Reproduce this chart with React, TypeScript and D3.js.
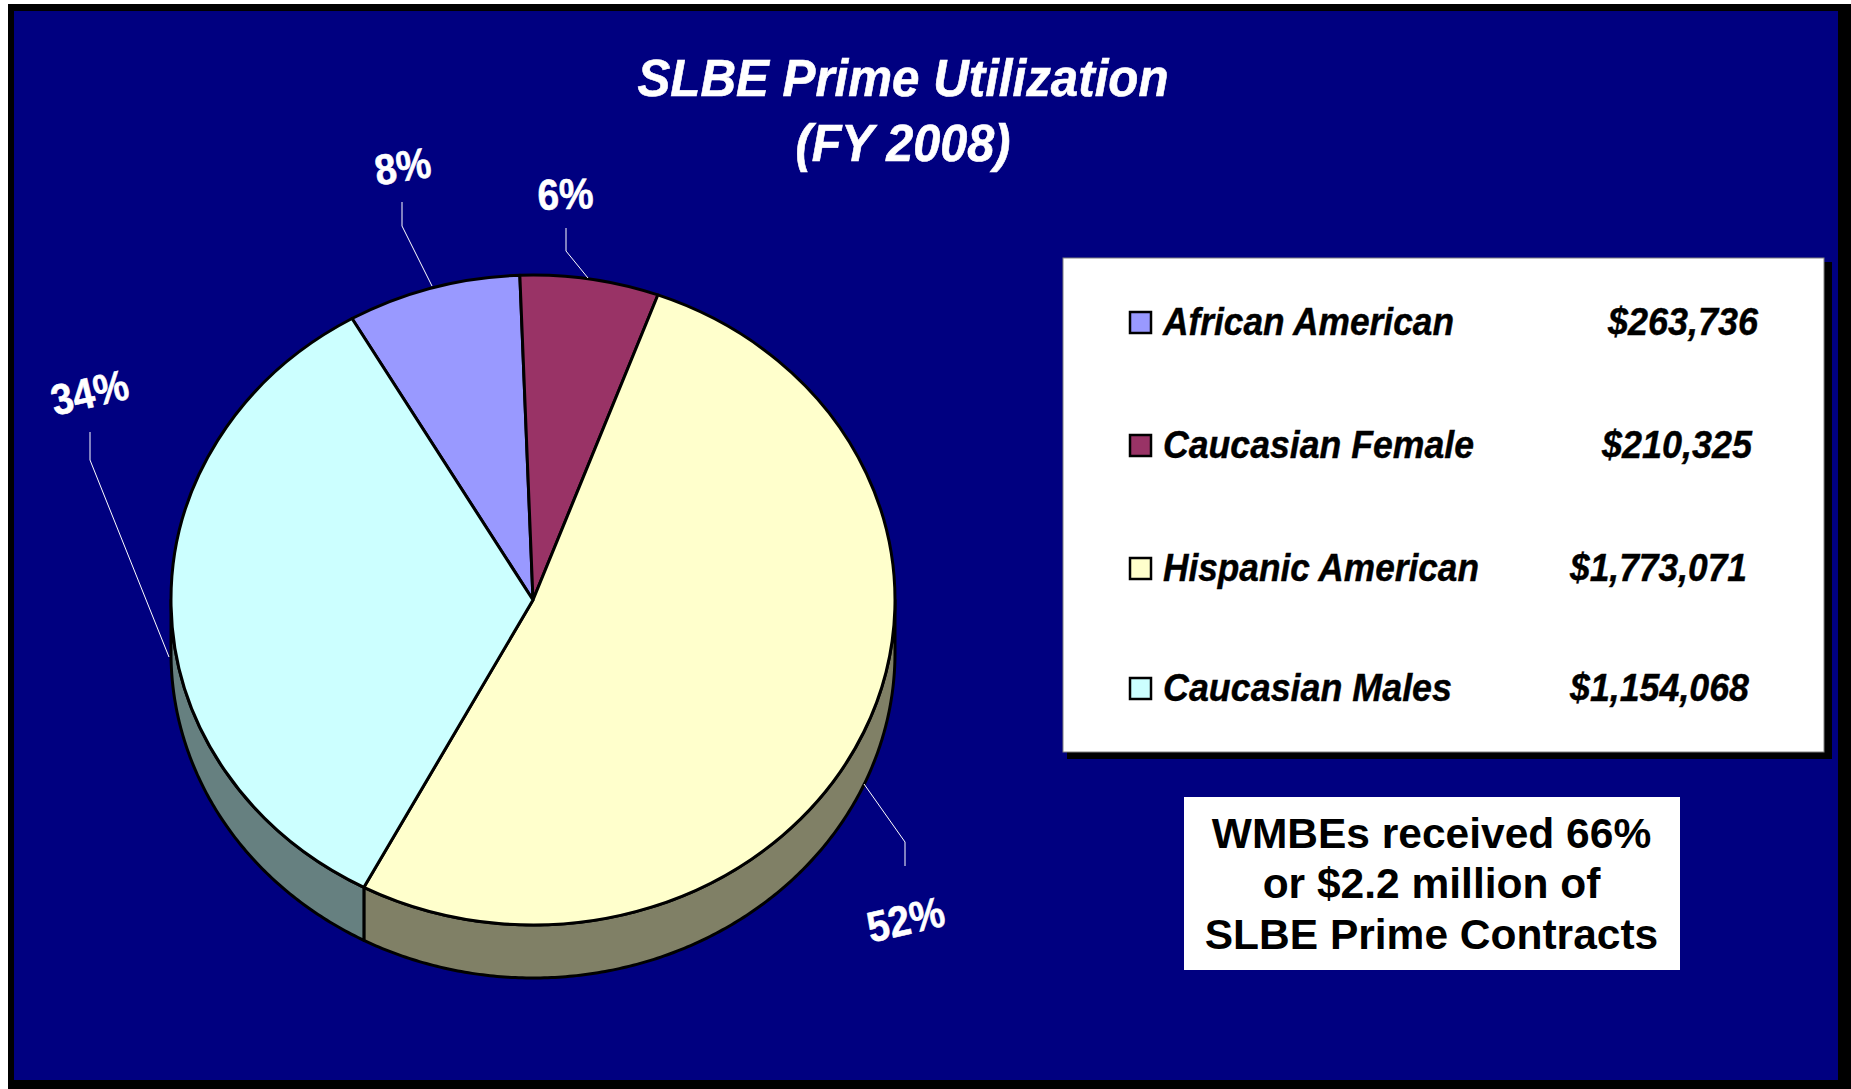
import React from 'react';
import * as d3 from 'd3';

const categories = ['African American', 'Caucasian Female', 'Hispanic American', 'Caucasian Males'];
const amounts = [263736, 210325, 1773071, 1154068];
const amountLabels = ['$263,736', '$210,325', '$1,773,071', '$1,154,068'];
const pctLabels = ['8%', '6%', '52%', '34%'];
const topColors = ['#9999ff', '#993366', '#ffffcc', '#ccffff'];
const sideColors = ['#4d4d80', '#4d1a33', '#808066', '#668080'];

const W = 1851;
const H = 1089;
const cx = 533;
const cy = 600;
const rx = 362;
const ry = 325;
const depth = 53;
const startDeg = -30;

// legend row layout: baseline y, text widths, amount x range
const rowBase = [334.5, 457.5, 580.5, 700.5];
const nameWidth = [291, 311, 316, 289];
const amtX = [1608, 1602, 1570, 1570];
const amtWidth = [150, 150, 177, 179];

// [label x, y, rotate], leader polyline
const pctPos = [
  { x: 405, y: 181, rot: -9 },
  { x: 566, y: 209, rot: -2 },
  { x: 909, y: 934, rot: -13 },
  { x: 93, y: 407, rot: -13 },
];
const leaders = [
  [[402, 202], [402, 226], [432, 286]],
  [[566, 228], [566, 251], [588, 278]],
  [[905, 866], [905, 842], [864, 784]],
  [[90, 432], [90, 460], [169, 657]],
];

const pie = d3.pie<number>().sort(null)
  .startAngle((startDeg * Math.PI) / 180)
  .endAngle((startDeg * Math.PI) / 180 + 2 * Math.PI);
const arcs = pie(amounts);
const arcGen = d3.arc<d3.PieArcDatum<number>>().innerRadius(0).outerRadius(rx);

// outer wall of a slice, only the part facing the viewer (between 90 and 270 deg)
function wallPath(a0: number, a1: number) {
  const lo = Math.max(a0, Math.PI / 2);
  const hi = Math.min(a1, (3 * Math.PI) / 2);
  if (hi <= lo) return null;
  const ts = d3.range(lo, hi, 0.01).concat(hi);
  const pt = (t: number, off: number): [number, number] => [
    cx + rx * Math.sin(t),
    cy - ry * Math.cos(t) + off,
  ];
  const pts = ts.map((t) => pt(t, 0)).concat(ts.slice().reverse().map((t) => pt(t, depth)));
  return d3.line()(pts) + 'Z';
}

const arial = '"Liberation Sans", Arial, sans-serif';

export default function App() {
  return (
    <svg
      width={W}
      height={H}
      style={{ position: 'absolute', left: 0, top: 0, background: '#fff' }}
    >
      <rect x={8} y={4} width={1843} height={1085} fill="#000" />
      <rect x={14} y={11} width={1824} height={1069} fill="#000080" />

      <g
        fontFamily={arial}
        fontWeight="bold"
        fontStyle="italic"
        fill="#fff"
        stroke="#fff"
        strokeWidth={0.6}
        textAnchor="middle"
      >
        <text x={903} y={95.5} fontSize={51} textLength={531} lengthAdjust="spacingAndGlyphs">
          SLBE Prime Utilization
        </text>
        <text x={903} y={160.5} fontSize={51} textLength={215} lengthAdjust="spacingAndGlyphs">
          (FY 2008)
        </text>
      </g>

      {/* side wall */}
      {arcs.map((d, i) => {
        const p = wallPath(d.startAngle, d.endAngle);
        return p ? (
          <path key={i} d={p} fill={sideColors[i]} stroke="#000" strokeWidth={3} strokeLinejoin="round" />
        ) : null;
      })}

      {/* top face */}
      <g transform={`translate(${cx},${cy}) scale(1,${ry / rx})`}>
        {arcs.map((d, i) => (
          <path
            key={i}
            d={arcGen(d) as string}
            fill={topColors[i]}
            stroke="#000"
            strokeWidth={3}
            strokeLinejoin="round"
            vectorEffect="non-scaling-stroke"
          />
        ))}
      </g>

      {leaders.map((l, i) => (
        <path key={i} d={d3.line()(l as [number, number][]) as string} fill="none" stroke="#fff" strokeWidth={1} />
      ))}

      {pctLabels.map((t, i) => (
        <text
          key={t}
          transform={`translate(${pctPos[i].x},${pctPos[i].y}) rotate(${pctPos[i].rot})`}
          fontFamily={arial}
          fontWeight="bold"
          fontSize={43}
          fill="#fff"
          stroke="#fff"
          strokeWidth={0.6}
          textAnchor="middle"
          textLength={t.length === 2 ? 56 : 78}
          lengthAdjust="spacingAndGlyphs"
        >
          {t}
        </text>
      ))}

      {/* legend */}
      <rect x={1067} y={262} width={765} height={497} fill="#000" />
      <rect x={1063} y={258} width={761} height={494} fill="#fff" stroke="#808080" strokeWidth={1} />
      {categories.map((c, i) => (
        <g key={c}>
          <rect
            x={1130}
            y={rowBase[i] - 22.5}
            width={21}
            height={21}
            fill={topColors[i]}
            stroke="#000"
            strokeWidth={2.5}
          />
          <text
            x={1163}
            y={rowBase[i]}
            fontFamily={arial}
            fontWeight="bold"
            fontStyle="italic"
            fontSize={38}
            fill="#000"
            stroke="#000"
            strokeWidth={0.4}
            textLength={nameWidth[i]}
            lengthAdjust="spacingAndGlyphs"
          >
            {c}
          </text>
          <text
            x={amtX[i]}
            y={rowBase[i]}
            fontFamily={arial}
            fontWeight="bold"
            fontStyle="italic"
            fontSize={38}
            fill="#000"
            stroke="#000"
            strokeWidth={0.4}
            textLength={amtWidth[i]}
            lengthAdjust="spacingAndGlyphs"
          >
            {amountLabels[i]}
          </text>
        </g>
      ))}

      {/* note */}
      <rect x={1184} y={797} width={496} height={173} fill="#fff" />
      <g fontFamily={arial} fontWeight="bold" fontSize={42.5} fill="#000" textAnchor="middle">
        <text x={1431.5} y={848}>WMBEs received 66%</text>
        <text x={1431.5} y={898}>or $2.2 million of</text>
        <text x={1431.5} y={949}>SLBE Prime Contracts</text>
      </g>
    </svg>
  );
}
